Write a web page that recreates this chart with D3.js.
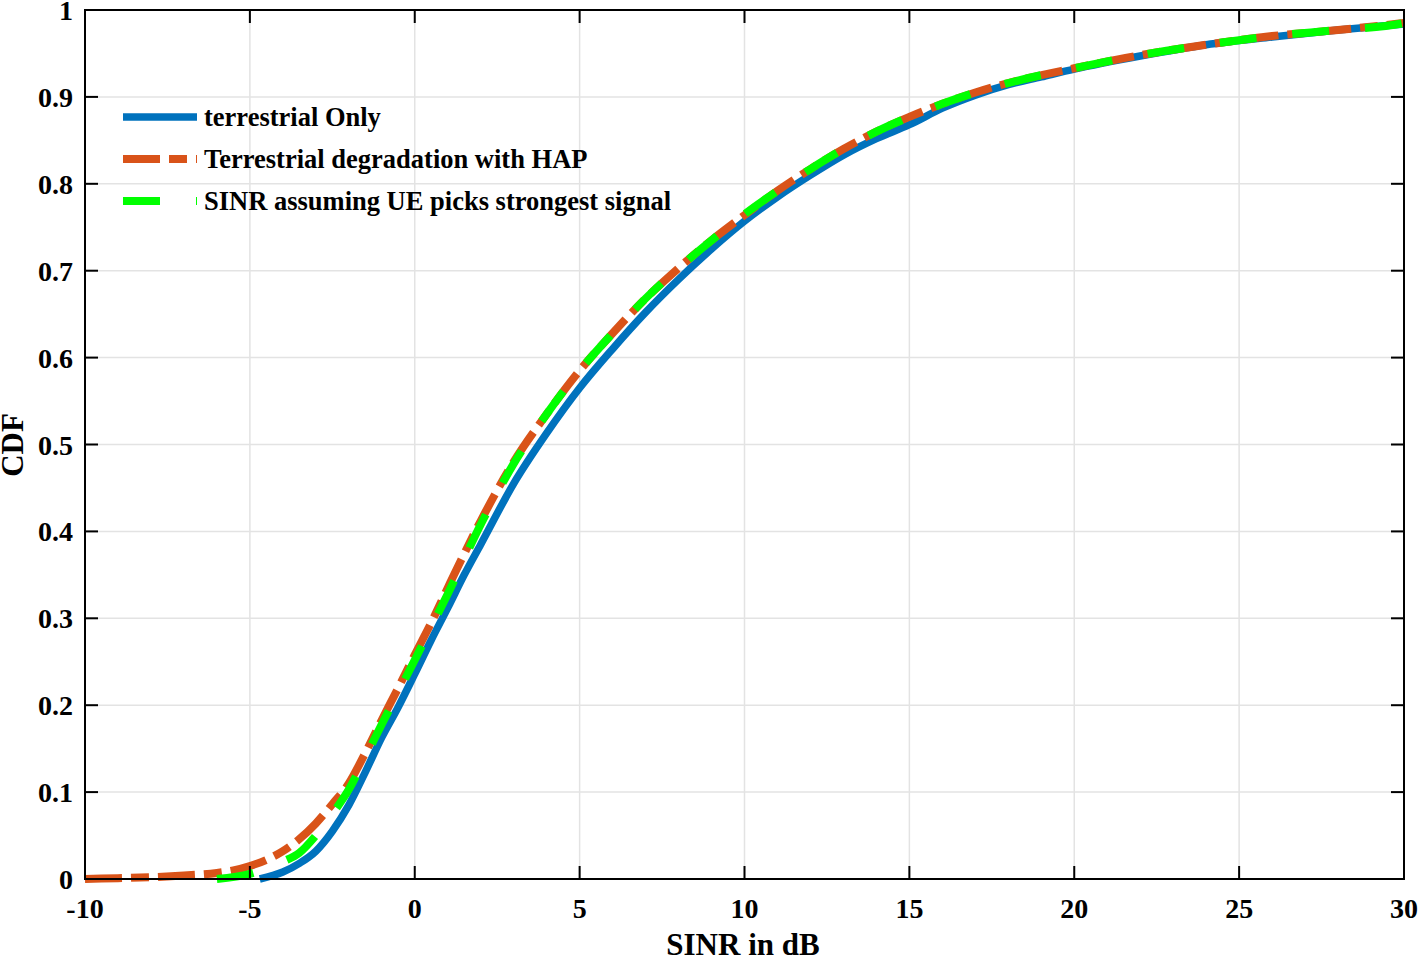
<!DOCTYPE html>
<html><head><meta charset="utf-8">
<script src="https://cdn.jsdelivr.net/npm/d3@7"></script>
<style>body{margin:0;background:#fff}svg{display:block}text{font-family:"Liberation Serif","Times New Roman",serif;font-weight:bold;fill:#000}</style>
</head><body><svg id="c" width="1418" height="959"></svg>
<script>
const xTicks = [-10,-5,0,5,10,15,20,25,30];
const yTicks = [0,0.1,0.2,0.3,0.4,0.5,0.6,0.7,0.8,0.9,1];
const seriesNames = ["terrestrial Only","Terrestrial degradation with HAP","SINR assuming UE picks strongest signal"];
const blueX = [-4.7,-4,-3.5,-3,-2.5,-2,-1.5,-1,-0.5,0,0.5,1,1.5,2,3,4,5,6,7,8,9,10,11,12,13,14,15,16,17,18,19,20,22,24,26,28,30];
const blueY = [0,0.008,0.018,0.032,0.055,0.085,0.123,0.163,0.198,0.236,0.275,0.312,0.35,0.385,0.455,0.513,0.565,0.61,0.652,0.69,0.725,0.757,0.785,0.81,0.833,0.852,0.868,0.887,0.902,0.914,0.923,0.932,0.947,0.96,0.969,0.977,0.984];
const orangeX = [-10,-9,-8,-7,-6,-5.5,-5,-4.5,-4,-3.5,-3,-2.5,-2,-1.5,-1,-0.5,0,0.5,1,2,3,4,5,6,7,8,9,10,11,12,13,14,15,16,17,18,20,22,24,26,28,30];
const orangeY = [0,0.001,0.002,0.004,0.007,0.01,0.015,0.022,0.032,0.046,0.064,0.086,0.11,0.145,0.183,0.22,0.258,0.295,0.335,0.412,0.48,0.535,0.585,0.628,0.668,0.703,0.735,0.764,0.792,0.817,0.84,0.86,0.877,0.892,0.905,0.916,0.933,0.948,0.96,0.97,0.977,0.985];
const greenX = [-6,-5,-4.5,-4,-3.5,-3,-2.5,-2,-1.5,-1,-0.5,0,0.5,1,2,3,4,5,6,7,8,9,10,11,12,13,14,15,16,17,18,20,22,24,26,28,30,30];
const greenY = [0,0.006,0.012,0.02,0.03,0.05,0.075,0.103,0.14,0.178,0.215,0.252,0.29,0.328,0.408,0.478,0.535,0.585,0.628,0.668,0.703,0.735,0.765,0.792,0.817,0.84,0.86,0.877,0.892,0.905,0.916,0.933,0.948,0.96,0.97,0.977,0.985,1.0];

const svg = d3.select("#c");
const L=85,R=1404,T=10,B=879;
const x = d3.scaleLinear().domain([-10,30]).range([L,R]);
const y = d3.scaleLinear().domain([0,1]).range([B,T]);

// grid
const g = svg.append("g");
g.selectAll(".gx").data(xTicks.slice(1,-1)).enter().append("line")
  .attr("x1",d=>x(d)).attr("x2",d=>x(d)).attr("y1",T).attr("y2",B)
  .attr("stroke","#e3e3e3").attr("stroke-width",1.5);
g.selectAll(".gy").data(yTicks.slice(1,-1)).enter().append("line")
  .attr("y1",d=>y(d)).attr("y2",d=>y(d)).attr("x1",L).attr("x2",R)
  .attr("stroke","#e3e3e3").attr("stroke-width",1.5);

// lines
const mk = (xs,ys)=>xs.map((v,i)=>[v,ys[i]]);
const line = d3.line().x(d=>x(d[0])).y(d=>y(d[1])).curve(d3.curveMonotoneX);
const series = [
  {data:mk(blueX,blueY),color:"#0072BD",w:7.5,dash:null},
  {data:mk(orangeX,orangeY),color:"#D95319",w:8,dash:"37,9,18,9"},
  {data:mk(greenX,greenY),color:"#00FF00",w:8,dash:"37,36"}
];
series.forEach(s=>{
  svg.append("path").datum(s.data).attr("d",line).attr("fill","none")
    .attr("stroke",s.color).attr("stroke-width",s.w)
    .attr("stroke-dasharray",s.dash).attr("stroke-linejoin","round");
});

// axes box and ticks
const axG = svg.append("g");
const tl = 13;
xTicks.forEach(t=>{
  axG.append("line").attr("x1",x(t)).attr("x2",x(t)).attr("y1",B).attr("y2",B-tl).attr("stroke","#000").attr("stroke-width",2);
  axG.append("line").attr("x1",x(t)).attr("x2",x(t)).attr("y1",T).attr("y2",T+tl).attr("stroke","#000").attr("stroke-width",2);
});
yTicks.forEach(t=>{
  axG.append("line").attr("x1",L).attr("x2",L+tl).attr("y1",y(t)).attr("y2",y(t)).attr("stroke","#000").attr("stroke-width",2);
  axG.append("line").attr("x1",R).attr("x2",R-tl).attr("y1",y(t)).attr("y2",y(t)).attr("stroke","#000").attr("stroke-width",2);
});
axG.append("rect").attr("x",L).attr("y",T).attr("width",R-L).attr("height",B-T)
  .attr("fill","none").attr("stroke","#000").attr("stroke-width",2);

// tick labels
svg.selectAll(".xl").data(xTicks).enter().append("text")
  .attr("x",d=>x(d)).attr("y",918).attr("text-anchor","middle").attr("font-size",28).text(d=>d);
svg.selectAll(".yl").data(yTicks).enter().append("text")
  .attr("x",73).attr("y",d=>y(d)+10).attr("text-anchor","end").attr("font-size",28).text(d=>d);

// axis labels
svg.append("text").attr("x",743).attr("y",955).attr("text-anchor","middle").attr("font-size",31).text("SINR in dB");
svg.append("text").attr("transform","translate(23,445) rotate(-90)").attr("text-anchor","middle").attr("font-size",31).text("CDF");

// legend
const legY=[117,159,201];
series.forEach((s,i)=>{
  svg.append("line").attr("x1",123).attr("x2",197).attr("y1",legY[i]).attr("y2",legY[i])
    .attr("stroke",s.color).attr("stroke-width",s.w).attr("stroke-dasharray",s.dash);
  svg.append("text").attr("x",204).attr("y",legY[i]+9).attr("font-size",26.5).text(seriesNames[i]);
});
</script></body></html>
